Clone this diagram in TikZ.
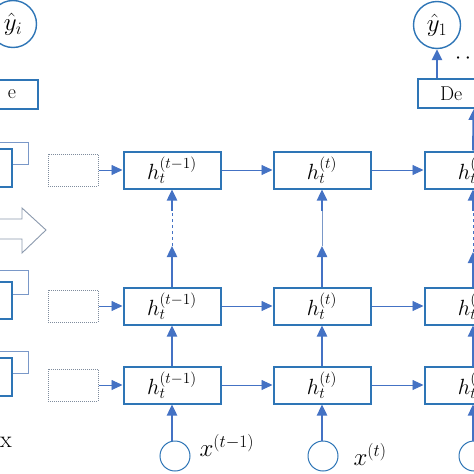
\RequirePackage{fix-cm}
\documentclass[tikz,border=0pt]{standalone}
\usetikzlibrary{arrows.meta}

\definecolor{boxblue}{HTML}{2E75B6}
\definecolor{lineblue}{HTML}{4472C4}
\definecolor{padgray}{HTML}{7F8C9D}
\definecolor{faintblue}{HTML}{7A98C8}
\definecolor{arrowgray}{HTML}{8C9AAE}

\begin{document}
\begin{tikzpicture}[x=1pt,y=-1pt,>={Triangle[length=11pt,width=10pt]},font=\fontsize{22}{26}\selectfont,
    cell node/.style={draw=boxblue,line width=2pt,fill=white,minimum width=97pt,minimum height=37pt,inner sep=0pt},
    pad node/.style={draw=padgray,densely dotted,line width=1pt,minimum width=50pt,minimum height=32pt,inner sep=0pt},
    in node/.style={circle,draw=boxblue,line width=1pt,minimum size=30pt,inner sep=0pt},
    out node/.style={circle,draw=boxblue,line width=1.4pt,minimum size=47pt,inner sep=0pt,font=\fontsize{25}{28}\selectfont},
    dec node/.style={draw=boxblue,line width=2pt,minimum height=29pt,inner ysep=0pt,inner xsep=22pt,text width=68pt,font=\fontsize{20}{22}\selectfont},
    back node/.style={draw=faintblue,line width=1pt,inner sep=0pt},
    front node/.style={draw=boxblue,line width=2pt,fill=white,inner sep=0pt},
    label node/.style={anchor=west,font=\fontsize{25}{28}\selectfont},
    flow/.style={->,draw=lineblue,line width=0.9pt},
    lift/.style={->,draw=lineblue,line width=2.4pt}]

    \useasboundingbox (0,0) rectangle (474,474);
    \clip (0,0) rectangle (474,474);

    % left side, cut off by the frame
    \node[back node,minimum width=88pt,minimum height=22pt] (b3) at (-16,153) {};
    \node[front node,minimum width=92pt,minimum height=38pt] (f3) at (-34,168) {};
    \node[back node,minimum width=88pt,minimum height=24pt] (b2) at (-16,282) {};
    \node[front node,minimum width=92pt,minimum height=37pt] (f2) at (-34,300.5) {};
    \node[back node,minimum width=88pt,minimum height=22pt] (b1) at (-16,362) {};
    \node[front node,minimum width=92pt,minimum height=38pt] (f1) at (-34,377) {};
    \draw[draw=arrowgray,line width=0.9pt,fill=white] (-10,219) -- (22,219) -- (22,208) -- (46,230) -- (22,253) -- (22,239) -- (-10,239);
    \node[dec node,align=right] (d0) at (-18,94.5) {e};
    \node[out node] (y0) at (13,24) {$\hat{y}_i$};
    \node[font=\fontsize{24}{26}\selectfont] (mx) at (6,442) {x};

    % dotted inputs
    \node[pad node] (p3) at (73,170) {};
    \node[pad node] (p2) at (73,306) {};
    \node[pad node] (p1) at (73,385) {};

    % cells
    \node[cell node] (h11) at (172,385) {$h_t^{(t-1)}$};
    \node[cell node] (h21) at (172,306) {$h_t^{(t-1)}$};
    \node[cell node] (h31) at (172,170) {$h_t^{(t-1)}$};
    \node[cell node] (h12) at (322,385) {$h_t^{(t)}$};
    \node[cell node] (h22) at (322,306) {$h_t^{(t)}$};
    \node[cell node] (h32) at (322,170) {$h_t^{(t)}$};
    \node[cell node] (h13) at (473,385) {$h_t^{(t)}$};
    \node[cell node] (h23) at (473,306) {$h_t^{(t)}$};
    \node[cell node] (h33) at (473,170) {$h_t^{(t)}$};

    % inputs
    \node[in node] (x1) at (175,456) {};
    \node[in node] (x2) at (323,456) {};
    \node[in node] (x3) at (474,456) {};
    \node[label node] (l1) at (196,445) {$x^{(t-1)}$};
    \node[label node] (l2) at (350,454) {$x^{(t)}$};

    % decoder and output
    \node[dec node,align=left] (d1) at (474,93.5) {De};
    \node[out node] (y1) at (437,25) {$\hat{y}_1$};
    \node[anchor=west,inner sep=0pt] (dots) at (455,59) {$\cdots$};

    \coordinate (g1a) at (172,246);
    \coordinate (g1b) at (172,211);
    \coordinate (g2a) at (322,246);
    \coordinate (g2b) at (322,211);
    \coordinate (g3a) at (473,252);
    \coordinate (g3b) at (473,211);

    \draw[flow] (p1) -- (h11);
    \draw[flow] (p2) -- (h21);
    \draw[flow] (p3) -- (h31);
    \draw[flow] (h11) -- (h12);
    \draw[flow] (h12) -- (h13);
    \draw[flow] (h21) -- (h22);
    \draw[flow] (h22) -- (h23);
    \draw[flow] (h31) -- (h32);
    \draw[flow] (h32) -- (h33);

    \draw[lift] (x1.north -| h11) -- (h11);
    \draw[lift] (x2.north -| h12) -- (h12);
    \draw[lift] (x3.north -| h13) -- (h13);
    \draw[lift] (h11) -- (h21);
    \draw[lift] (h12) -- (h22);
    \draw[lift] (h13) -- (h23);
    \draw[lift] (h21) -- (g1a);
    \draw[lift] (h22) -- (g2a);
    \draw[lift] (h23) -- (g3a);
    \draw[lineblue,line width=1pt,dashed] (g1a) -- (g1b);
    \draw[faintblue,line width=1pt] (g2a) -- (g2b);
    \draw[lineblue,line width=1pt,dashed] (g3a) -- (g3b);
    \draw[lift] (g1b) -- (h31);
    \draw[lift] (g2b) -- (h32);
    \draw[lift] (g3b) -- (h33);
    \draw[lift] (h33) -- (d1);
    \draw[lift] (d1.north -| y1) -- (y1);
\end{tikzpicture}
\end{document}
